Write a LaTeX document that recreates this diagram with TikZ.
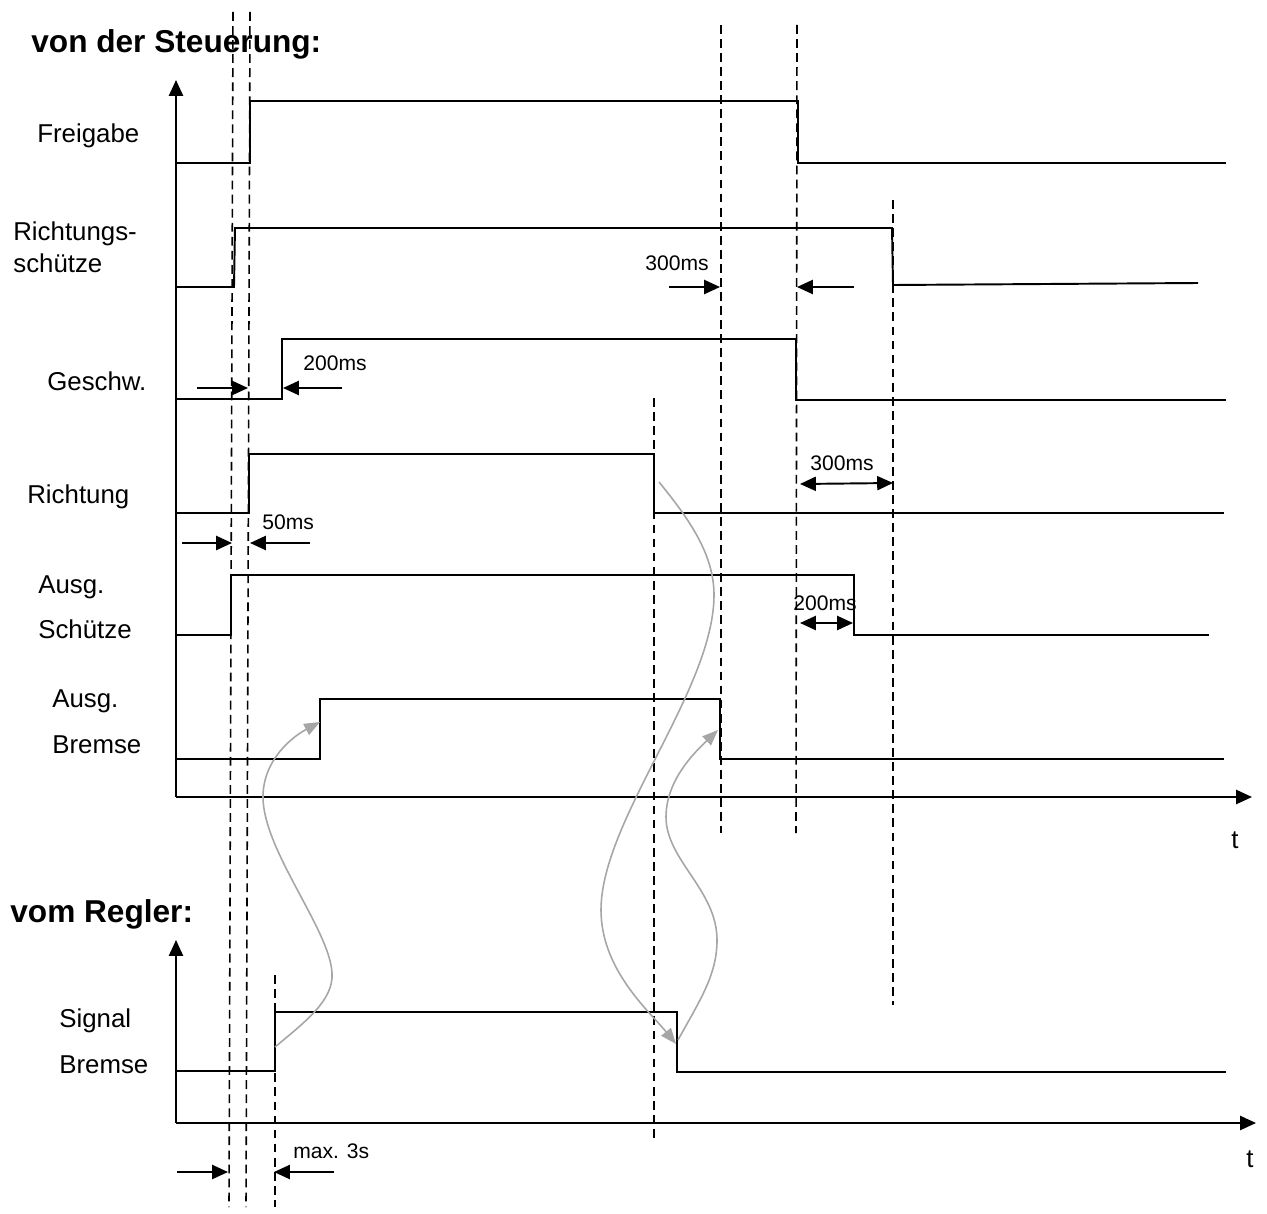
\documentclass[tikz,border=0pt]{standalone}
\usepackage{fontspec}
\setmainfont{Liberation Sans}
\usetikzlibrary{arrows.meta}

\begin{document}
\begin{tikzpicture}[x=0.02cm,y=-0.02cm,>={Triangle[length=9pt,width=8pt]},
 sig/.style={line width=1.1pt},
 cut/.style={line width=0.9pt,dash pattern=on 5pt off 3pt},
 lbl/.style={anchor=base west,inner sep=0pt,font=\fontsize{14.7}{17}\selectfont},
 ttl/.style={anchor=base west,inner sep=0pt,font=\fontsize{18}{21}\selectfont\bfseries},
 ms/.style={anchor=base west,inner sep=0pt,font=\fontsize{12}{14}\selectfont},
 wave/.style={draw=black!35,line width=0.9pt,-{Triangle[length=9pt,width=7pt]}}]
\useasboundingbox (0,0) rectangle (1267,1213);

% headings and signal names
\node[ttl] (steu) at (31,53) {von der Steuerung:};
\node[ttl] (regl) at (10,922) {vom Regler:};
\foreach \x/\y/\t [count=\k] in {37/143/Freigabe,13/240/Richtungs-,13/272/schütze,47/390/Geschw.,
  27/503/Richtung,38/593/Ausg.,38/638/Schütze,52/707/Ausg.,52/753/Bremse,59/1027/Signal,59/1073/Bremse}
  \node[lbl] (name\k) at (\x,\y) {\t};
\node[lbl] (t1) at (1231,848) {t};
\node[lbl] (t2) at (1246,1167) {t};

% axes
\draw[sig,->] (176,797) -- (176,80);
\draw[sig,->] (176,797) -- (1252,797);
\draw[sig,->] (176,1123) -- (176,940);
\draw[sig,->] (176,1123) -- (1256,1123);

% time markers
\draw[cut] (233,12) -- (229,1207);
\draw[cut] (250,12) -- (246,1207);
\draw[cut] (275,975) -- (275,1207);
\draw[cut] (654,398) -- (654,1140);
\draw[cut] (721,25) -- (721,833);
\draw[cut] (797,25) -- (796,833);
\draw[cut] (893,200) -- (893,1005);

% signals
\draw[sig] (177,163) -- (250,163) -- (250,101) -- (798,101) -- (798,163) -- (1226,163);
\draw[sig] (177,287) -- (234,287) -- (235,228) -- (892,228) -- (893,285) -- (1198,283);
\draw[sig] (177,399) -- (282,399) -- (282,339) -- (796,339) -- (796,400) -- (1226,400);
\draw[sig] (175,513) -- (249,513) -- (249,454) -- (654,454) -- (654,513) -- (1224,513);
\draw[sig] (175,635) -- (231,635) -- (231,575) -- (854,575) -- (854,635) -- (1209,635);
\draw[sig] (175,759) -- (320,759) -- (320,699) -- (720,699) -- (720,759) -- (1224,759);
\draw[sig] (177,1071) -- (275,1071) -- (275,1012) -- (677,1012) -- (677,1072) -- (1226,1072);

% delays
\node[ms] (d300a) at (645,270) {300ms};
\draw[sig,->] (669,287) -- (720,287);
\draw[sig,->] (854,287) -- (797,287);
\node[ms] (d200a) at (303,370) {200ms};
\draw[sig,->] (197,388) -- (248,388);
\draw[sig,->] (342,388) -- (283,388);
\node[ms] (d300b) at (810,470) {300ms};
\draw[sig,<->] (800,484) -- (893,483);
\node[ms] (d50) at (262,529) {50ms};
\draw[sig,->] (182,543) -- (232,543);
\draw[sig,->] (310,543) -- (250,543);
\node[ms] (d200b) at (793,610) {200ms};
\draw[sig,<->] (800,623) -- (853,623);
\node[ms] (dmax) at (293,1158) {max. 3s};
\draw[sig,->] (177,1172) -- (228,1172);
\draw[sig,->] (334,1172) -- (274,1172);

% cause and effect
\coordinate (sbOn) at (275,1047);
\coordinate (sbOff) at (678,1040);
\coordinate (abOn) at (320,722);
\coordinate (abOff) at (718,730);
\coordinate (riOff) at (659,482);
\coordinate (sbIn) at (676,1044);
\draw[wave] (sbOn) .. controls (305,1022) and (334,1000) .. (332,973)
  .. controls (330,930) and (263,850) .. (263,797) .. controls (263,760) and (292,737) .. (abOn);
\draw[wave] (riOff) .. controls (690,520) and (714,555) .. (714,595)
  .. controls (714,690) and (601,820) .. (601,910) .. controls (601,970) and (650,1012) .. (sbIn);
\draw[wave] (sbOff) .. controls (700,1000) and (717,975) .. (717,940)
  .. controls (717,890) and (666,860) .. (666,817) .. controls (666,780) and (695,752) .. (abOff);
\end{tikzpicture}
\end{document}
